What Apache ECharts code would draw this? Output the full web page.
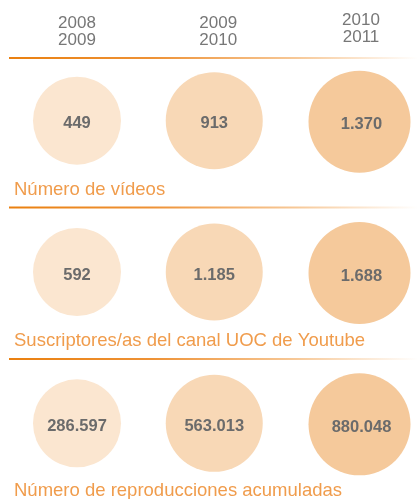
<!DOCTYPE html>
<html>
<head>
<meta charset="utf-8">
<script src="https://cdn.jsdelivr.net/npm/echarts@6/dist/echarts.min.js"></script>
<style>
html,body{margin:0;padding:0;background:#fff;}
#main{width:418px;height:499px;}
</style>
</head>
<body>
<div id="main"></div>
<script>
const years = ['2008\n2009', '2009\n2010', '2010\n2011'];
const metrics = ['Número de vídeos', 'Suscriptores/as del canal UOC de Youtube', 'Número de reproducciones acumuladas'];
const videos = [449, 913, 1370];
const subscribers = [592, 1185, 1688];
const plays = [286597, 563013, 880048];

const rows = [videos, subscribers, plays];
const colColors = ['#fbe6d0', '#f8d8b6', '#f5c99b'];
const colSizes = [88, 97, 102];
const colOffsets = [[0, 0], [-4, 0], [0, 1]];

function fmt(v) {
  return String(v).replace(/\B(?=(\d{3})+(?!\d))/g, '.');
}

const chart = echarts.init(document.getElementById('main'), null, {renderer: 'canvas'});

const series = years.map((y, c) => ({
  type: 'scatter',
  name: y,
  symbol: 'circle',
  symbolSize: colSizes[c],
  symbolOffset: colOffsets[c],
  itemStyle: {color: colColors[c], opacity: 1},
  label: {
    show: true,
    position: 'inside',
    formatter: p => fmt(p.value[2]),
    fontFamily: 'Liberation Sans, Arial, sans-serif',
    fontWeight: 'bold',
    fontSize: 16.5,
    color: '#6b6b6b',
    offset: [c === 2 ? 2 : 0, 3]
  },
  emphasis: {disabled: true},
  data: rows.map((arr, r) => [c, r, arr[c]])
}));

function lineRect(y) {
  return {
    type: 'rect',
    shape: {x: 9, y: y, width: 409, height: 2},
    style: {
      fill: new echarts.graphic.LinearGradient(0, 0, 1, 0, [
        {offset: 0, color: '#ea800f'},
        {offset: 0.35, color: '#ee9236'},
        {offset: 0.7, color: '#f7c897'},
        {offset: 1, color: '#ffffff'}
      ])
    },
    silent: true
  };
}

const titleYs = [190, 341, 491];

const option = {
  animation: false,
  backgroundColor: '#ffffff',
  grid: {left: 77, right: 58.5, top: 45, bottom: -2},
  xAxis: {
    type: 'category',
    position: 'top',
    boundaryGap: false,
    offset: -12,
    data: years.map((y, i) => i === 2 ? {value: y, textStyle: {padding: [0, 0, 3, 3]}} : y),
    axisLine: {show: false},
    axisTick: {show: false},
    splitLine: {show: false},
    axisLabel: {
      fontFamily: 'Liberation Sans, Arial, sans-serif',
      fontSize: 17,
      lineHeight: 17,
      color: '#777777',
      margin: 8
    }
  },
  yAxis: {
    type: 'category',
    inverse: true,
    data: metrics,
    show: false
  },
  graphic: [
    lineRect(57),
    lineRect(206.5),
    lineRect(358)
  ].concat(metrics.map((m, i) => ({
    type: 'text',
    silent: true,
    style: {
      text: m,
      x: 14,
      y: titleYs[i],
      verticalAlign: 'middle',
      fill: '#f09c4c',
      font: '18.5px "Liberation Sans", Arial, sans-serif'
    }
  }))),
  series: series
};

chart.setOption(option);
</script>
</body>
</html>
